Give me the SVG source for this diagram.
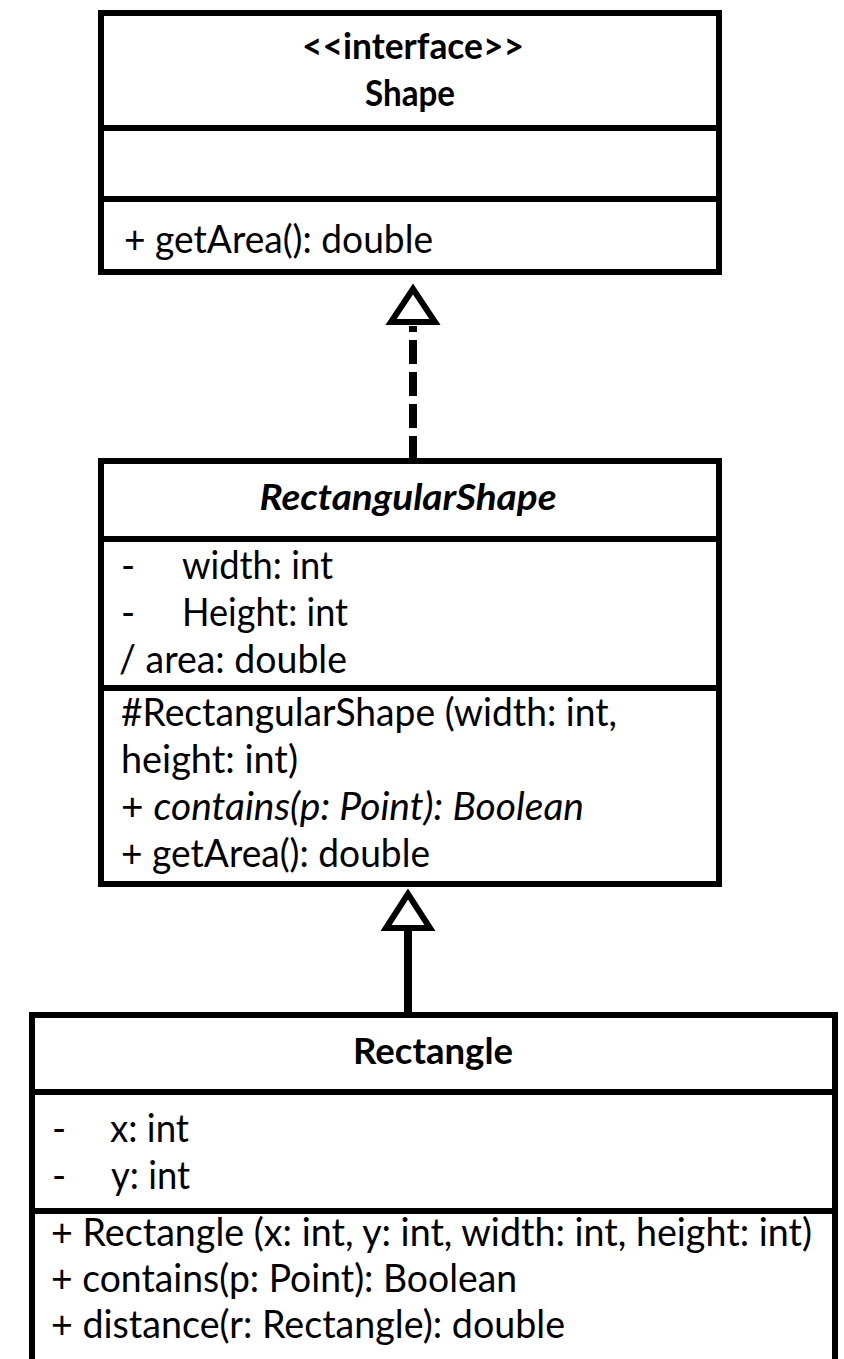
<svg xmlns="http://www.w3.org/2000/svg" width="844" height="1359" viewBox="0 0 844 1359">
<style>
.box{fill:#fff;stroke:#000;stroke-width:6}
.dv{stroke:#000;stroke-width:6}
.t{font-family:Lato,"Liberation Sans",sans-serif;font-size:38px;fill:#000}
.b{font-weight:bold;font-size:37px}
.c{text-anchor:middle}
.i{font-style:italic}
.tri{fill:#fff;stroke:#000;stroke-width:6;stroke-linejoin:miter}
</style>
<g id="connectors">
  <path d="M413 460 V326" stroke="#000" stroke-width="8" stroke-dasharray="24 8" fill="none"/>
  <polygon class="tri" points="413,289 391,322 435,322"/>
  <path d="M408 1014 V928" stroke="#000" stroke-width="8" fill="none"/>
  <polygon class="tri" points="408,894 386,928 430,928"/>
</g>
<g id="shape">
  <rect class="box" x="101" y="13" width="618" height="259"/>
  <line class="dv" x1="101" y1="128" x2="719" y2="128"/>
  <line class="dv" x1="101" y1="199" x2="719" y2="199"/>
  <text class="t b c" x="413" y="59" textLength="222" lengthAdjust="spacingAndGlyphs">&lt;&lt;interface&gt;&gt;</text>
  <text class="t b c" x="410" y="106" textLength="90" lengthAdjust="spacingAndGlyphs">Shape</text>
  <text class="t" x="124" y="253" textLength="309" lengthAdjust="spacingAndGlyphs">+ getArea(): double</text>
</g>
<g id="rectangularShape">
  <rect class="box" x="101" y="461" width="618" height="423"/>
  <line class="dv" x1="101" y1="539" x2="719" y2="539"/>
  <line class="dv" x1="101" y1="688" x2="719" y2="688"/>
  <text class="t b i c" x="408" y="510" textLength="297" lengthAdjust="spacingAndGlyphs">RectangularShape</text>
  <text class="t" x="121" y="579">-</text>
  <text class="t" x="182" y="579" textLength="151" lengthAdjust="spacingAndGlyphs">width: int</text>
  <text class="t" x="121" y="626">-</text>
  <text class="t" x="182" y="626" textLength="166" lengthAdjust="spacingAndGlyphs">Height: int</text>
  <text class="t" x="119" y="673" textLength="228" lengthAdjust="spacingAndGlyphs">/ area: double</text>
  <text class="t" x="121" y="726" textLength="496" lengthAdjust="spacingAndGlyphs">#RectangularShape (width: int,</text>
  <text class="t" x="121" y="773" textLength="177" lengthAdjust="spacingAndGlyphs">height: int)</text>
  <text class="t" x="121" y="820" textLength="463" lengthAdjust="spacingAndGlyphs">+ <tspan class="i">contains(p: Point): Boolean</tspan></text>
  <text class="t" x="121" y="867" textLength="309" lengthAdjust="spacingAndGlyphs">+ getArea(): double</text>
</g>
<g id="rectangle">
  <rect class="box" x="32" y="1015" width="803" height="400"/>
  <line class="dv" x1="32" y1="1092" x2="835" y2="1092"/>
  <line class="dv" x1="32" y1="1211" x2="835" y2="1211"/>
  <text class="t b c" x="433" y="1064" textLength="160" lengthAdjust="spacingAndGlyphs">Rectangle</text>
  <text class="t" x="52" y="1142">-</text>
  <text class="t" x="110" y="1142" textLength="79" lengthAdjust="spacingAndGlyphs">x: int</text>
  <text class="t" x="52" y="1189">-</text>
  <text class="t" x="111" y="1189" textLength="79" lengthAdjust="spacingAndGlyphs">y: int</text>
  <text class="t" x="51" y="1246" textLength="761" lengthAdjust="spacingAndGlyphs">+ Rectangle (x: int, y: int, width: int, height: int)</text>
  <text class="t" x="51" y="1292" textLength="466" lengthAdjust="spacingAndGlyphs">+ contains(p: Point): Boolean</text>
  <text class="t" x="51" y="1338" textLength="514" lengthAdjust="spacingAndGlyphs">+ distance(r: Rectangle): double</text>
</g>
</svg>
